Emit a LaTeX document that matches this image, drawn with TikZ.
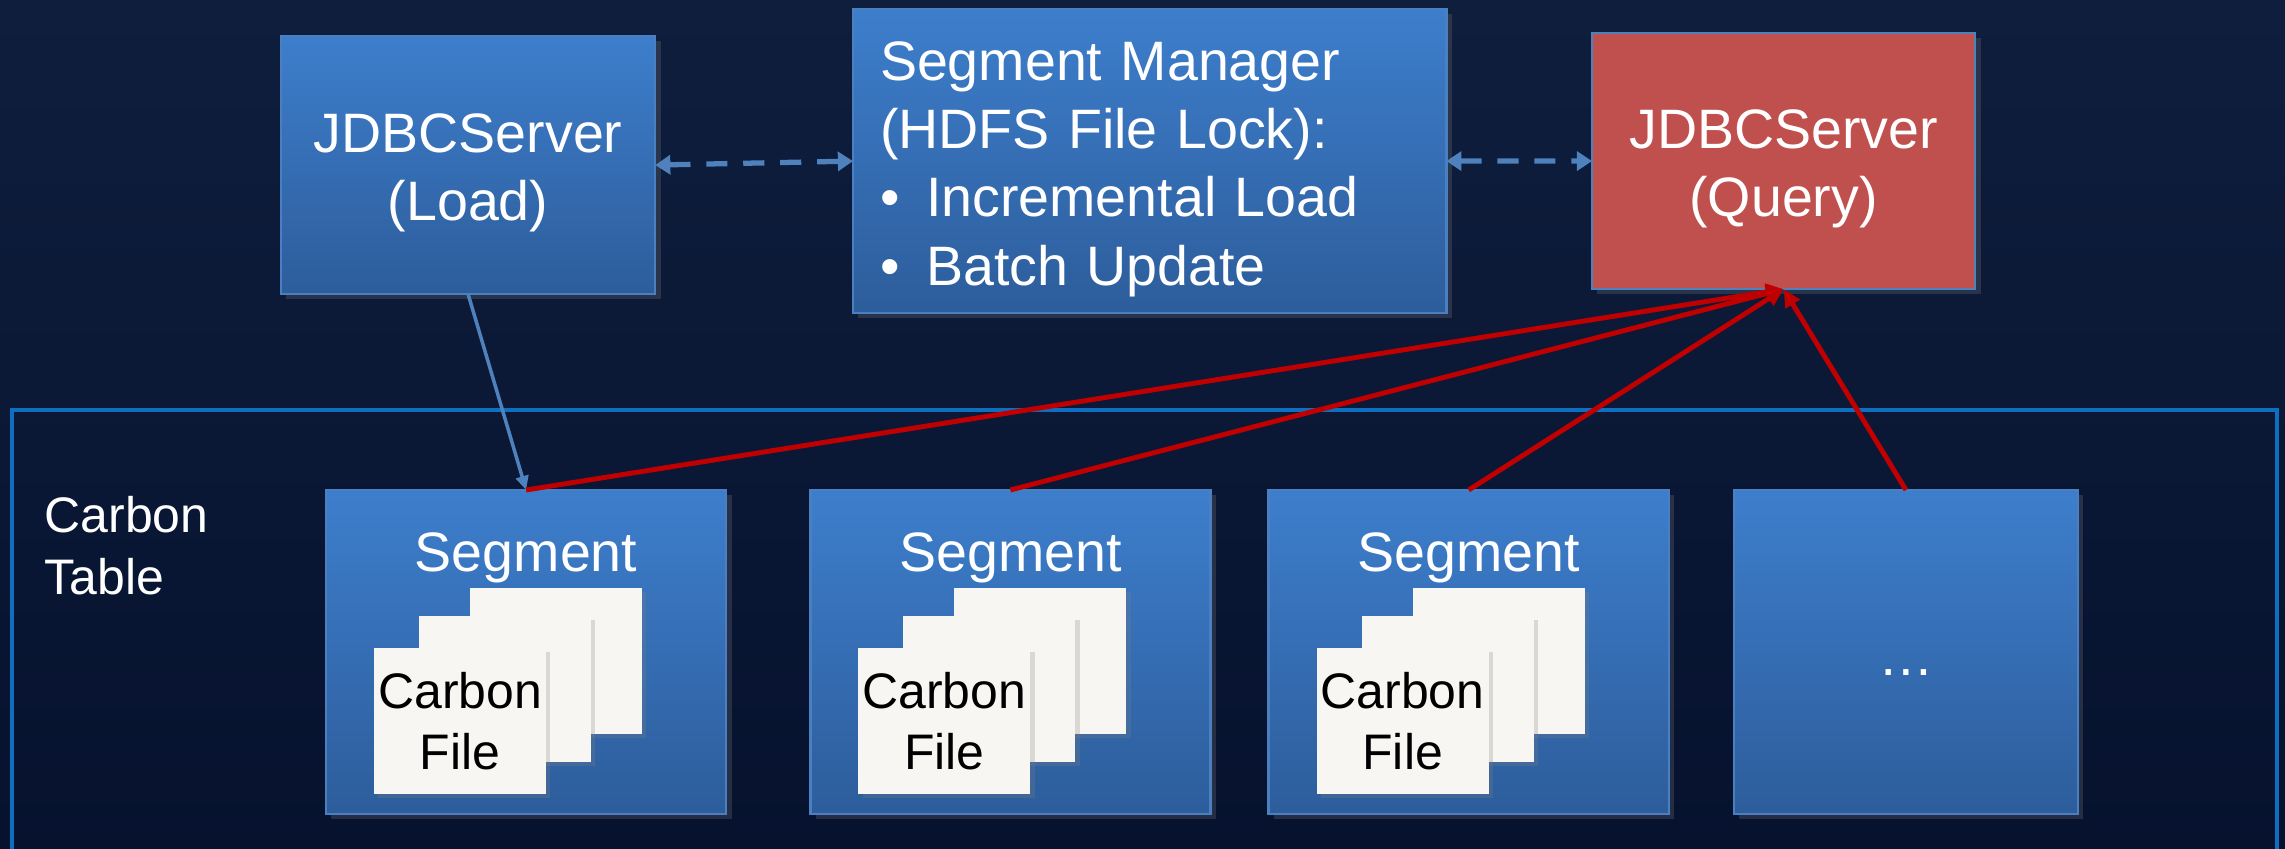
\documentclass[tikz,border=0pt]{standalone}
\usepackage{fontspec}
\setmainfont{Liberation Sans}
\usepackage{xcolor}
\usepackage{tikz}
\usetikzlibrary{arrows.meta,positioning,shadows}

\definecolor{bgtop}{HTML}{0F1E3D}
\definecolor{bgbot}{HTML}{06122E}
\definecolor{boxtop}{HTML}{3D7ECC}
\definecolor{boxbot}{HTML}{2D5D9B}
\definecolor{boxedge}{HTML}{4A7FC2}
\definecolor{queryfill}{HTML}{C0504D}
\definecolor{linkblue}{HTML}{4F81BD}
\definecolor{queryred}{HTML}{C00000}
\definecolor{tableblue}{HTML}{0E6FC1}
\definecolor{filewhite}{HTML}{F7F6F2}

\newcommand{\boxfont}{\fontsize{15.8}{19.4}\selectfont}
\newcommand{\filefont}{\fontsize{14.2}{17.6}\selectfont}
\newcommand{\bulletitem}{\makebox[0.83em][l]{•}}
\newcommand{\topstrut}{\rule{0pt}{0.55cm}}

\begin{document}
\begin{tikzpicture}[
    x=0.01cm, y=-0.01cm,
    node distance=0.84cm and 0.84cm,
    bluebox/.style={draw=boxedge, line width=0.7pt, top color=boxtop, bottom color=boxbot,
      inner sep=0pt, outer sep=0pt, text=white, align=center, font=\boxfont,
      anchor=north west, drop shadow={opacity=0.25, shadow xshift=1.5pt, shadow yshift=-1.5pt}},
    querybox/.style={bluebox, fill=queryfill, top color=queryfill, bottom color=queryfill, draw=linkblue},
    segbox/.style={bluebox, minimum height=3.24cm},
    seglabel/.style={inner sep=0pt, text=white, font=\boxfont},
    filebox/.style={fill=filewhite, minimum width=1.72cm, minimum height=1.46cm, inner sep=0pt,
      outer sep=0pt, align=center, font=\filefont, text=black,
      drop shadow={opacity=0.25, shadow xshift=1.2pt, shadow yshift=-1.2pt}},
    tablelabel/.style={inner sep=0pt, anchor=north west, align=left, text=white, font=\filefont},
    dashlink/.style={{Triangle[length=4.3pt,width=5.4pt]}-{Triangle[length=4.3pt,width=5.4pt]},
      draw=linkblue, line width=1.5pt, dash pattern=on 6pt off 4.5pt},
    loadlink/.style={-{Triangle[length=4pt,width=3.6pt]}, draw=linkblue, line width=1pt},
    querylink/.style={-{Triangle[length=5pt,width=4.6pt]}, draw=queryred, line width=1.4pt}
  ]
    \useasboundingbox (0,0) rectangle (2285,849);
    \clip (0,0) rectangle (2285,849);
    \fill[top color=bgtop, bottom color=bgbot] (0,0) rectangle (2285,849);
    \draw[tableblue, line width=0.9pt] (12,410) rectangle (2277,880);

    \node[bluebox, minimum width=3.74cm, minimum height=2.58cm] (load) at (281,36)
      {\topstrut JDBCServer\\(Load)};
    \node[bluebox, minimum width=5.93cm, minimum height=3.04cm, text width=5.39cm, inner xsep=0.27cm,
      align=left] (manager) at (853,9)
      {\topstrut Segment Manager\\(HDFS File Lock):\\\bulletitem Incremental Load\\\bulletitem Batch Update};
    \node[querybox, minimum width=3.83cm, minimum height=2.56cm] (query) at (1592,33)
      {\topstrut JDBCServer\\(Query)};

    \node[tablelabel] (table) at (44,496) {Carbon\\Table};

    \node[segbox, minimum width=4cm] (seg1) at (326,490) {};
    \node[segbox, minimum width=4cm, right=0.84cm of seg1] (seg2) {};
    \node[segbox, minimum width=4cm, right=0.58cm of seg2] (seg3) {};
    \node[segbox, minimum width=3.44cm, right=0.65cm of seg3] (seg4) {\rule{0pt}{13.5pt}…};

    \node[seglabel, below=0.42cm of seg1.north] (seg1label) {Segment};
    \node[seglabel, below=0.42cm of seg2.north] (seg2label) {Segment};
    \node[seglabel, below=0.42cm of seg3.north] (seg3label) {Segment};

    \node[filebox, below right=0.98cm and 1.44cm of seg1.north west] (seg1back) {};
    \node[filebox, below right=1.26cm and 0.93cm of seg1.north west] (seg1mid) {};
    \node[filebox, below right=1.58cm and 0.48cm of seg1.north west] (seg1file) {Carbon\\File};
    \node[filebox, below right=0.98cm and 1.44cm of seg2.north west] (seg2back) {};
    \node[filebox, below right=1.26cm and 0.93cm of seg2.north west] (seg2mid) {};
    \node[filebox, below right=1.58cm and 0.48cm of seg2.north west] (seg2file) {Carbon\\File};
    \node[filebox, below right=0.98cm and 1.44cm of seg3.north west] (seg3back) {};
    \node[filebox, below right=1.26cm and 0.93cm of seg3.north west] (seg3mid) {};
    \node[filebox, below right=1.58cm and 0.48cm of seg3.north west] (seg3file) {Carbon\\File};

    \draw[dashlink] (load.east) -- (manager.west);
    \draw[dashlink] (manager.east) -- (query.west);
    \draw[loadlink] (load.south) -- (seg1.north);
    \draw[querylink] (seg1.north) -- (query.south);
    \draw[querylink] (seg2.north) -- (query.south);
    \draw[querylink] (seg3.north) -- (query.south);
    \draw[querylink] (seg4.north) -- (query.south);
  \end{tikzpicture}
\end{document}
